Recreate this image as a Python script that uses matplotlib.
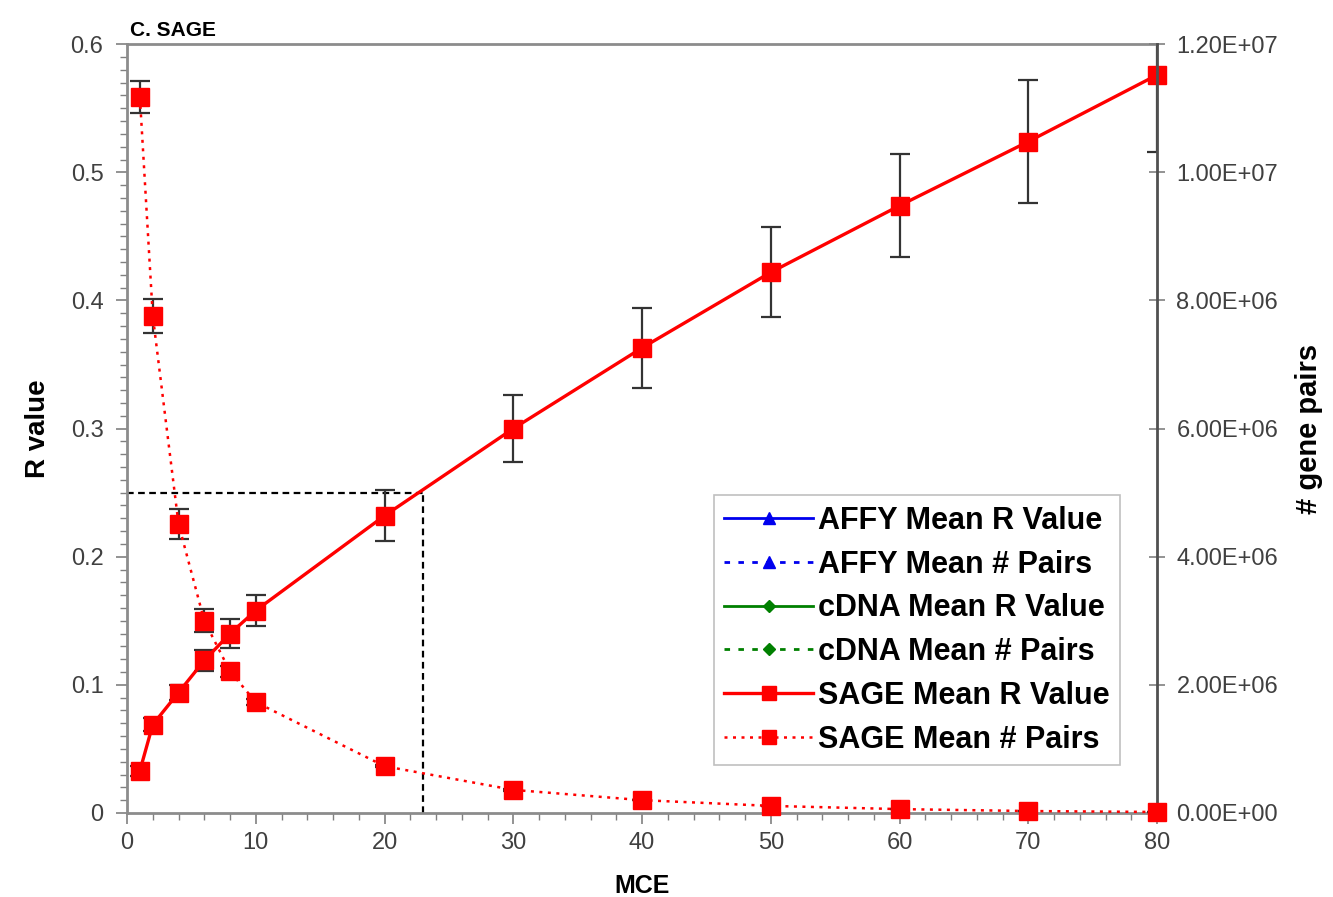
import matplotlib
matplotlib.use("Agg")
import matplotlib.pyplot as plt
from matplotlib.ticker import MultipleLocator, FuncFormatter

plt.rcParams['font.family'] = ['Liberation Sans', 'DejaVu Sans']

# SAGE series, MCE cutoff on x
mce = [1, 2, 4, 6, 8, 10, 20, 30, 40, 50, 60, 70, 80]
sage_r = [0.033, 0.069, 0.094, 0.119, 0.140, 0.158, 0.232, 0.300, 0.363, 0.422, 0.474, 0.524, 0.576]
sage_r_err = [0.004, 0.005, 0.006, 0.008, 0.011, 0.012, 0.020, 0.026, 0.031, 0.035, 0.040, 0.048, 0.060]
sage_pairs = [1.117e7, 7.76e6, 4.51e6, 3.00e6, 2.21e6, 1.73e6, 7.3e5, 3.6e5, 2.0e5, 1.1e5, 6e4, 3e4, 1.5e4]
sage_pairs_err = [2.5e5, 2.7e5, 2.3e5, 1.8e5, 8e4, 5e4, 2e4, 1e4, 5e3, 3e3, 2e3, 1e3, 1e3]

# threshold guide lines
r_cut = 0.25
mce_cut = 23

red = '#ff0000'
tick_col = '#404040'

fig = plt.figure(figsize=(13.33, 8.97), dpi=100)
ax = fig.add_axes([0.0953, 0.0937, 0.7727, 0.857])
ax2 = ax.twinx()

# empty AFFY / cDNA series (legend only)
ax.plot([], [], '-', color='#0000ee', marker='^', ms=10, lw=2, label='AFFY Mean R Value')
ax2.plot([], [], color='#0000ee', marker='^', ms=10, lw=2, ls=(0, (2, 3)), label='AFFY Mean # Pairs')
ax.plot([], [], '-', color='#008000', marker='D', ms=8, lw=2, label='cDNA Mean R Value')
ax2.plot([], [], color='#008000', marker='D', ms=8, lw=2, ls=(0, (2, 3)), label='cDNA Mean # Pairs')

ax.plot([0, mce_cut], [r_cut, r_cut], color='black', lw=1.6, ls=(0, (3, 2)), zorder=1)
ax.plot([mce_cut, mce_cut], [0, r_cut], color='black', lw=1.6, ls=(0, (3, 2)), zorder=1)

ax.errorbar(mce, sage_r, yerr=sage_r_err, fmt='none', ecolor='#333333', elinewidth=1.6,
            capsize=7, capthick=1.6, zorder=2)
ax.plot(mce, sage_r, '-', color=red, lw=2.4, marker='s', ms=13, mec=red, mfc=red,
        label='SAGE Mean R Value', zorder=3, clip_on=False)

ax2.errorbar(mce, sage_pairs, yerr=sage_pairs_err, fmt='none', ecolor='#333333', elinewidth=1.6,
             capsize=7, capthick=1.6, zorder=2)
ax2.plot(mce, sage_pairs, color=red, lw=1.8, ls=(0, (1.2, 2.2)), marker='s', ms=13, mec=red,
         mfc=red, label='SAGE Mean # Pairs', zorder=3, clip_on=False)

ax.set_xlim(0, 80)
ax.set_ylim(0, 0.6)
ax2.set_ylim(0, 1.2e7)

ax.xaxis.set_major_locator(MultipleLocator(10))
ax.xaxis.set_minor_locator(MultipleLocator(2))
ax.yaxis.set_major_locator(MultipleLocator(0.1))
ax.yaxis.set_minor_locator(MultipleLocator(0.01))
ax.yaxis.set_major_formatter(FuncFormatter(lambda v, p: '0' if v == 0 else f'{v:g}'))
ax2.yaxis.set_major_locator(MultipleLocator(2e6))
ax2.yaxis.set_major_formatter(FuncFormatter(lambda v, p: f'{v:.2E}'))

ax.tick_params(axis='both', which='major', labelsize=17, labelcolor=tick_col, color='#808080',
               length=8, width=1.2, direction='out')
ax.tick_params(axis='y', which='major', pad=9)
ax.tick_params(axis='x', which='major', pad=6)
ax.tick_params(axis='both', which='minor', color='#808080', length=5, width=1, direction='out')
ax2.tick_params(axis='y', which='major', labelsize=17, labelcolor=tick_col, color='#808080',
                length=12, width=1.2, direction='inout', pad=8)

for s in ['left', 'top', 'bottom']:
    ax.spines[s].set_color('#8c8c8c')
    ax.spines[s].set_linewidth(2)
    ax2.spines[s].set_visible(False)
ax.spines['right'].set_visible(False)
ax2.spines['right'].set_color('#505050')
ax2.spines['right'].set_linewidth(2)

ax.set_xlabel('MCE', fontsize=18, fontweight='bold', labelpad=14)
ax.set_ylabel('R value', fontsize=20, fontweight='bold', labelpad=14)
ax2.set_ylabel('# gene pairs', fontsize=21, fontweight='bold', labelpad=12)
ax.text(0.003, 1.006, 'C. SAGE', transform=ax.transAxes, fontsize=15, fontweight='bold',
        ha='left', va='bottom')

h1, l1 = ax.get_legend_handles_labels()
h2, l2 = ax2.get_legend_handles_labels()
order = ['AFFY Mean R Value', 'AFFY Mean # Pairs', 'cDNA Mean R Value', 'cDNA Mean # Pairs',
         'SAGE Mean R Value', 'SAGE Mean # Pairs']
lookup = dict(zip(l1 + l2, h1 + h2))
leg = ax2.legend([lookup[k] for k in order], order, loc='lower right',
                 bbox_to_anchor=(0.964, 0.062), bbox_transform=ax.transAxes,
                 prop={'size': 22, 'weight': 'bold'}, frameon=True, fancybox=False,
                 edgecolor='#b0b0b0', handlelength=2.9, handletextpad=0.15,
                 labelspacing=0.45, borderpad=0.35, markerscale=0.8, borderaxespad=0)
leg.get_frame().set_linewidth(1.2)

fig.savefig('out.png', dpi=100)
